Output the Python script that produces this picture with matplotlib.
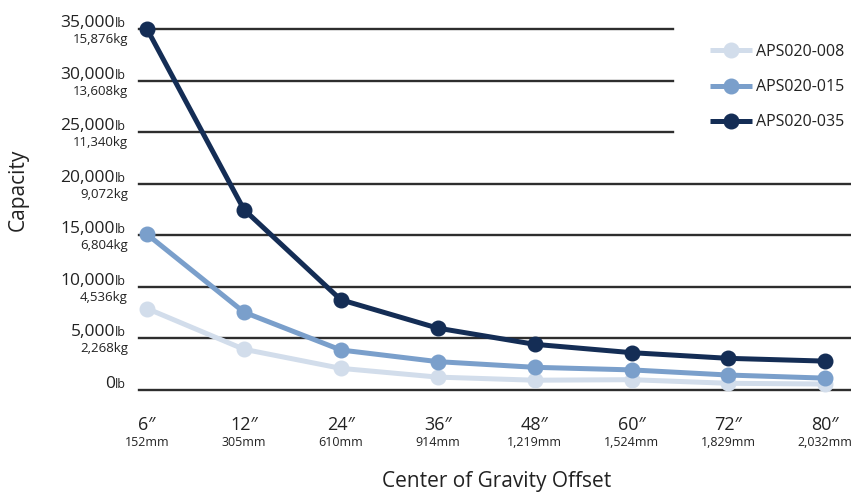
import matplotlib
matplotlib.use("Agg")
import matplotlib.pyplot as plt
import matplotlib.font_manager as fm

# ---- data ----
offsets_in = ["6″", "12″", "24″", "36″", "48″", "60″", "72″", "80″"]
offsets_mm = ["152mm", "305mm", "610mm", "914mm", "1,219mm", "1,524mm", "1,829mm", "2,032mm"]
series_names = ["APS020-008", "APS020-015", "APS020-035"]
aps008 = [7900, 3950, 2100, 1250, 950, 1000, 650, 580]
aps015 = [15100, 7550, 3880, 2750, 2200, 1950, 1450, 1150]
aps035 = [35000, 17500, 8750, 6000, 4430, 3620, 3070, 2800]
ytick_lb = [0, 5000, 10000, 15000, 20000, 25000, 30000, 35000]
ytick_kg = ["", "2,268kg", "4,536kg", "6,804kg", "9,072kg", "11,340kg", "13,608kg", "15,876kg"]
colors = ["#d2ddeb", "#7a9fcb", "#142d55"]

avail = {f.name for f in fm.fontManager.ttflist}
main_font = "Open Sans" if "Open Sans" in avail else "DejaVu Sans"
narrow = "Liberation Sans Narrow" if "Liberation Sans Narrow" in avail else main_font
plt.rcParams['font.family'] = [main_font, 'DejaVu Sans']

W, H = 851, 494
fig = plt.figure(figsize=(W / 100, H / 100), dpi=100)
ax = fig.add_axes([139 / W, 1 - 390 / H, 1 - 139 / W, 361 / H])

x = list(range(len(offsets_in)))
ax.set_xlim(-8 / 96.9, (851 - 147) / 96.9)
ax.set_ylim(0, 35000)

# gridlines
for v in ytick_lb:
    xmax = 1.0 if v <= 20000 else (673 - 139) / (851 - 139)
    ax.axhline(v, xmin=0, xmax=xmax, color="#2e2e2e", lw=1.7, zorder=1, clip_on=False)

for vals, c, name in zip([aps008, aps015, aps035], colors, series_names):
    ax.plot(x, vals, color=c, lw=3.6, marker="o", markersize=10.5, label=name,
            zorder=3, clip_on=False, solid_capstyle="butt")

for s in ax.spines.values():
    s.set_visible(False)
ax.set_xticks([])
ax.set_yticks([])

# y labels
for v, kg in zip(ytick_lb, ytick_kg):
    ax.annotate(f"{v:,}", xy=(0, v), xycoords=("axes fraction", "data"),
                xytext=(-24, 2), textcoords="offset pixels", ha="right", va="baseline",
                fontsize=12.5, color="#222222")
    ax.annotate("lb", xy=(0, v), xycoords=("axes fraction", "data"),
                xytext=(-24, 2), textcoords="offset pixels", ha="left", va="baseline",
                fontsize=9, color="#222222")
    if kg:
        ax.annotate(kg, xy=(0, v), xycoords=("axes fraction", "data"),
                    xytext=(-11, -14), textcoords="offset pixels", ha="right", va="baseline",
                    fontsize=9.5, color="#222222")

# x labels
for xi, a, b in zip(x, offsets_in, offsets_mm):
    ax.annotate(a, xy=(xi, 0), xycoords=("data", "data"), xytext=(0, -35),
                textcoords="offset pixels", ha="center", va="center",
                fontsize=13, family=[narrow, "DejaVu Sans"], color="#222222")
    ax.annotate(b, xy=(xi, 0), xycoords=("data", "data"), xytext=(0, -52),
                textcoords="offset pixels", ha="center", va="center",
                fontsize=9, family=[narrow, "DejaVu Sans"], color="#222222")

fig.text(497 / W, 1 - 481 / H, "Center of Gravity Offset", ha="center", va="center",
         fontsize=15, color="#222222")
fig.text(18 / W, 1 - 190 / H, "Capacity", ha="center", va="center", rotation=90,
         fontsize=15, color="#222222")

leg = ax.legend(loc="upper left", bbox_to_anchor=(710 / W, 1 - 44 / H),
                bbox_transform=fig.transFigure, frameon=False, fontsize=11.5,
                handlelength=2.6, handletextpad=0.3, labelspacing=1.2,
                borderpad=0, borderaxespad=0, markerscale=1.0)
for t in leg.get_texts():
    t.set_color("#222222")

fig.savefig("out.png", dpi=100)
